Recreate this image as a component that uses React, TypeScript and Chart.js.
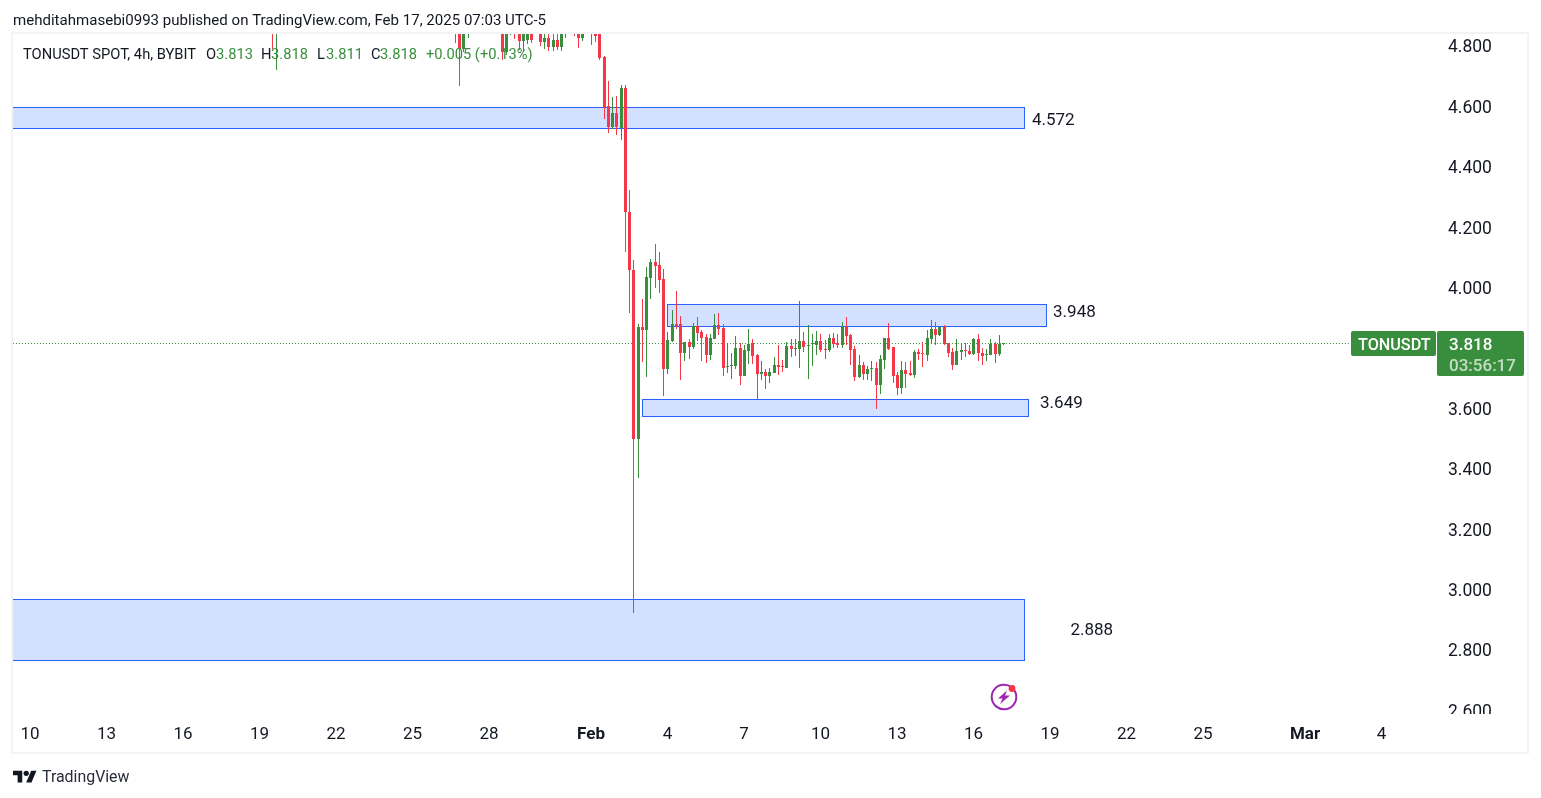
import React, { useEffect, useRef } from "react";
import { Chart, registerables } from "chart.js";

Chart.register(...registerables);

const FONT = "Roboto";
const GREEN = "#388e3c";
const RED = "#f5374a";
const INK = "#131722";

// 4h bars counted from Jan 10 00:00; only bars that reach into the visible window are listed
const barSlots = [
  57, 58, 100, 101, 102, 103, 111, 112, 113, 114, 115, 116, 117, 118, 120, 121, 122, 123, 124, 125, 126, 128, 129, 130,
  132, 133, 134, 135, 136, 137, 138, 139, 140, 141, 142, 143, 144, 145, 146, 147, 148, 149, 150, 151, 152, 153, 154,
  155, 156, 157, 158, 159, 160, 161, 162, 163, 164, 165, 166, 167, 168, 169, 170, 171, 172, 173, 174, 175, 176, 177,
  178, 179, 180, 181, 182, 183, 184, 185, 186, 187, 188, 189, 190, 191, 192, 193, 194, 195, 196, 197, 198, 199, 200,
  201, 202, 203, 204, 205, 206, 207, 208, 209, 210, 211, 212, 213, 214, 215, 216, 217, 218, 219, 220, 221, 222, 223,
  224, 225, 226, 227, 228, 229,
];
const opens = [
  4.9, 4.86, 4.92, 4.88, 4.79, 4.88, 4.92, 4.78, 4.86, 4.9, 4.88, 4.817, 4.82, 4.87, 4.88, 4.813, 4.826, 4.797, 4.82,
  4.797, 4.87, 4.92, 4.9, 4.826, 4.9, 4.88, 4.84, 4.764, 4.601, 4.532, 4.578, 4.528, 4.661, 4.25, 4.058, 3.499, 3.87,
  3.86, 4.032, 4.085, 4.075, 4.028, 3.73, 3.823, 3.879, 3.879, 3.783, 3.82, 3.803, 3.873, 3.853, 3.836, 3.777, 3.83,
  3.876, 3.866, 3.737, 3.74, 3.74, 3.8, 3.707, 3.79, 3.815, 3.777, 3.714, 3.72, 3.707, 3.717, 3.744, 3.74, 3.734,
  3.807, 3.797, 3.797, 3.823, 3.807, 3.812, 3.81, 3.823, 3.797, 3.793, 3.833, 3.817, 3.81, 3.87, 3.843, 3.797, 3.704,
  3.744, 3.714, 3.73, 3.734, 3.677, 3.76, 3.833, 3.803, 3.711, 3.667, 3.727, 3.717, 3.711, 3.787, 3.783, 3.777, 3.83,
  3.863, 3.843, 3.87, 3.817, 3.787, 3.744, 3.787, 3.793, 3.79, 3.78, 3.83, 3.783, 3.777, 3.777, 3.813, 3.78, 3.813,
];
const highs = [
  4.95, 4.96, 4.95, 4.92, 4.93, 4.93, 4.95, 4.92, 4.93, 4.92, 4.9, 4.9, 4.89, 4.89, 4.9, 4.85, 4.86, 4.85, 4.85, 4.89,
  4.92, 4.95, 4.93, 4.9, 4.93, 4.9, 4.86, 4.767, 4.684, 4.631, 4.634, 4.671, 4.671, 4.323, 4.091, 3.879, 3.962, 4.069,
  4.095, 4.144, 4.118, 4.062, 3.853, 3.926, 3.989, 3.906, 3.82, 3.83, 3.883, 3.903, 3.86, 3.846, 3.846, 3.912, 3.916,
  3.879, 3.817, 3.783, 3.84, 3.817, 3.81, 3.863, 3.83, 3.78, 3.757, 3.73, 3.734, 3.77, 3.81, 3.76, 3.82, 3.83, 3.83,
  3.956, 3.853, 3.876, 3.846, 3.856, 3.846, 3.826, 3.846, 3.85, 3.846, 3.886, 3.903, 3.846, 3.807, 3.777, 3.754, 3.74,
  3.757, 3.754, 3.777, 3.833, 3.883, 3.803, 3.72, 3.757, 3.754, 3.757, 3.793, 3.797, 3.82, 3.86, 3.893, 3.886, 3.873,
  3.876, 3.817, 3.8, 3.83, 3.817, 3.817, 3.81, 3.833, 3.846, 3.8, 3.797, 3.83, 3.82, 3.843, 3.818,
];
const lows = [
  4.79, 4.72, 4.81, 4.669, 4.78, 4.826, 4.754, 4.77, 4.836, 4.823, 4.787, 4.78, 4.807, 4.81, 4.8, 4.79, 4.783, 4.783,
  4.787, 4.783, 4.826, 4.833, 4.793, 4.817, 4.803, 4.813, 4.754, 4.558, 4.512, 4.525, 4.505, 4.489, 4.118, 3.916,
  2.923, 3.371, 3.754, 3.705, 3.962, 3.999, 3.982, 3.641, 3.714, 3.82, 3.863, 3.694, 3.757, 3.763, 3.797, 3.823,
  3.757, 3.75, 3.76, 3.83, 3.843, 3.707, 3.717, 3.697, 3.73, 3.677, 3.707, 3.747, 3.747, 3.631, 3.694, 3.664, 3.684,
  3.717, 3.711, 3.72, 3.734, 3.77, 3.773, 3.734, 3.787, 3.697, 3.74, 3.777, 3.787, 3.764, 3.787, 3.8, 3.8, 3.8, 3.81,
  3.744, 3.691, 3.701, 3.694, 3.694, 3.691, 3.598, 3.648, 3.73, 3.793, 3.684, 3.644, 3.648, 3.667, 3.707, 3.701, 3.76,
  3.737, 3.757, 3.813, 3.81, 3.84, 3.81, 3.77, 3.727, 3.744, 3.76, 3.77, 3.777, 3.777, 3.757, 3.744, 3.757, 3.777,
  3.75, 3.774, 3.811,
];
const closes = [
  4.86, 4.92, 4.86, 4.79, 4.9, 4.9, 4.78, 4.9, 4.9, 4.86, 4.817, 4.87, 4.87, 4.82, 4.813, 4.826, 4.797, 4.82, 4.797,
  4.87, 4.9, 4.87, 4.826, 4.88, 4.86, 4.833, 4.76, 4.598, 4.532, 4.578, 4.532, 4.661, 4.25, 4.058, 3.499, 3.87, 3.86,
  4.036, 4.085, 4.072, 4.025, 3.73, 3.826, 3.879, 3.873, 3.783, 3.82, 3.803, 3.873, 3.85, 3.833, 3.777, 3.833, 3.876,
  3.863, 3.734, 3.74, 3.744, 3.8, 3.707, 3.793, 3.813, 3.773, 3.714, 3.72, 3.707, 3.72, 3.744, 3.737, 3.737, 3.807,
  3.797, 3.8, 3.823, 3.803, 3.81, 3.815, 3.823, 3.793, 3.793, 3.833, 3.813, 3.81, 3.87, 3.84, 3.793, 3.704, 3.744,
  3.714, 3.73, 3.734, 3.677, 3.764, 3.833, 3.797, 3.707, 3.667, 3.727, 3.714, 3.711, 3.787, 3.78, 3.78, 3.833, 3.863,
  3.843, 3.87, 3.813, 3.783, 3.744, 3.79, 3.793, 3.79, 3.78, 3.83, 3.783, 3.774, 3.78, 3.813, 3.78, 3.813, 3.818,
];

const yTicks = [4.8, 4.6, 4.4, 4.2, 4.0, 3.8, 3.6, 3.4, 3.2, 3.0, 2.8, 2.6];
const xTickDays = [0, 3, 6, 9, 12, 15, 18, 22, 25, 28, 31, 34, 37, 40, 43, 46, 50, 53];
const xTickLabels = ["10", "13", "16", "19", "22", "25", "28", "Feb", "4", "7", "10", "13", "16", "19", "22", "25", "Mar", "4"];
const monthLabels = ["Feb", "Mar"];

// support / resistance zones: start day, end day, upper price, lower price
const zoneStart = [-2, 24.98, 24, -2];
const zoneEnd = [38.98, 39.84, 39.14, 38.98];
const zoneTop = [4.598, 3.946, 3.63, 2.97];
const zoneBottom = [4.528, 3.873, 3.575, 2.767];
const zoneLabels = ["4.572", "3.948", "3.649", "2.888"];
const zoneLabelDay = [39.29, 40.12, 39.61, 40.8];
const zoneLabelPrice = [4.554, 3.918, 3.616, 2.863];

const lastPrice = 3.818;
const priceLineDays = [-0.67, 51.8];

const SPACING = 25.5;
const dayMin = (13 - 30) / SPACING;
const dayMax = (1437 - 30) / SPACING;
const priceMax = 4.8 + 12 / 302;
const priceMin = 4.8 - 668 / 302;

function roundRect(c: CanvasRenderingContext2D, x: number, y: number, w: number, h: number, r: number) {
  c.beginPath();
  c.roundRect(x, y, w, h, r);
  c.fill();
}

const backdrop = {
  id: "backdrop",
  // keep every candle on whole pixels, as the reference is drawn
  afterDatasetsUpdate(chart: any) {
    chart.data.datasets.forEach((ds: any, i: number) => {
      const meta = chart.getDatasetMeta(i);
      meta.data.forEach((el: any) => {
        if (ds.type === "line") {
          el.y = Math.round(el.y) + 0.5;
          return;
        }
        el.x = Math.round(el.x - 0.01) + 0.5;
        const a = Math.round(el.y);
        const b = Math.round(el.base);
        el.y = a;
        el.base = a === b ? a + 1 : b;
      });
    });
  },
  beforeDraw(chart: any) {
    const c: CanvasRenderingContext2D = chart.ctx;
    c.save();
    c.fillStyle = "#ffffff";
    c.fillRect(0, 0, 1541, 798);
    c.strokeStyle = "#f2f3f5";
    c.lineWidth = 2;
    c.strokeRect(12, 33, 1516, 720);
    c.restore();
    // price labels sit a little lower than the canvas' middle baseline
    chart.scales.y.getLabelItems(chart.chartArea).forEach((it: any) => {
      const t = it.options.translation;
      it.options = { ...it.options, translation: [t[0], t[1] + 2] };
    });
  },
  beforeDatasetsDraw(chart: any) {
    const c: CanvasRenderingContext2D = chart.ctx;
    const { x, y } = chart.scales;
    const a = chart.chartArea;
    c.save();
    c.beginPath();
    c.rect(a.left, a.top, a.right - a.left, a.bottom - a.top);
    c.clip();
    zoneStart.forEach((s, i) => {
      const l = Math.round(x.getPixelForValue(s));
      const r = Math.round(x.getPixelForValue(zoneEnd[i]));
      const t = Math.round(y.getPixelForValue(zoneTop[i]));
      const b = Math.round(y.getPixelForValue(zoneBottom[i]));
      c.fillStyle = "rgba(41,98,255,0.2)";
      c.fillRect(l, t, r - l, b - t);
      c.strokeStyle = "#2962ff";
      c.lineWidth = 1;
      c.strokeRect(l + 0.5, t + 0.5, r - l, b - t);
    });
    c.restore();
  },
  afterDraw(chart: any) {
    const c: CanvasRenderingContext2D = chart.ctx;
    const { x, y } = chart.scales;
    c.save();
    c.textBaseline = "middle";
    c.textAlign = "left";

    // crop of the lowest price tick
    c.fillStyle = "#ffffff";
    c.fillRect(1440, 714, 85, 9);

    c.font = `15.05px ${FONT}`;
    c.fillStyle = INK;
    c.fillText("mehditahmasebi0993 published on TradingView.com, Feb 17, 2025 07:03 UTC-5", 13, 21);

    // legend
    c.font = `14.7px ${FONT}`;
    c.fillText("TONUSDT SPOT, 4h, BYBIT", 23, 55);
    c.fillText("O", 206, 55);
    c.fillText("H", 261, 55);
    c.fillText("L", 317, 55);
    c.fillText("C", 371, 55);
    c.fillStyle = GREEN;
    c.fillText("3.813", 216, 55);
    c.fillText("3.818", 271, 55);
    c.fillText("3.811", 326, 55);
    c.fillText("3.818", 380, 55);
    c.fillText("+0.005 (+0.13%)", 426, 55);

    // zone values
    c.font = `17px ${FONT}`;
    c.fillStyle = INK;
    zoneLabels.forEach((t, i) => {
      c.fillText(t, x.getPixelForValue(zoneLabelDay[i]), y.getPixelForValue(zoneLabelPrice[i]));
    });

    // last price labels
    c.fillStyle = GREEN;
    roundRect(c, 1351, 331, 85, 25, 2);
    roundRect(c, 1437, 331, 87, 45, 2);
    c.fillStyle = "#ffffff";
    c.font = `500 16.2px ${FONT}`;
    c.fillText("TONUSDT", 1358, 345.5);
    c.font = `500 17px ${FONT}`;
    c.fillText(lastPrice.toFixed(3), 1449, 345.5);
    c.fillStyle = "rgba(255,255,255,0.7)";
    c.fillText("03:56:17", 1449, 366.5);

    // logo
    c.translate(13, 768);
    c.scale(0.66, 0.66);
    c.fillStyle = INK;
    c.fill(new Path2D("M14 22H7V11H0V4h14v18zM28 22h-8l7.5-18h8L28 22z"));
    c.beginPath();
    c.arc(20, 8, 4, 0, Math.PI * 2);
    c.fill();
    c.setTransform(1, 0, 0, 1, 0, 0);
    c.font = `15.9px ${FONT}`;
    c.fillStyle = "#2a2e39";
    c.fillText("TradingView", 42, 778);

    // alert badge
    c.strokeStyle = "#9c27b0";
    c.lineWidth = 2;
    c.beginPath();
    c.arc(1004, 697, 12.3, -0.9, Math.PI * 1.75);
    c.stroke();
    c.fillStyle = "#9c27b0";
    c.beginPath();
    c.moveTo(1007, 690.5);
    c.lineTo(998, 698.5);
    c.lineTo(1002.5, 698.5);
    c.lineTo(1000, 704);
    c.lineTo(1010, 695.5);
    c.lineTo(1005, 695.5);
    c.closePath();
    c.fill();
    c.fillStyle = "#f23645";
    c.beginPath();
    c.arc(1012, 688.5, 3.4, 0, Math.PI * 2);
    c.fill();
    c.restore();
  },
};

export default function App() {
  const ref = useRef<HTMLCanvasElement>(null);
  useEffect(() => {
    const colors = closes.map((v, i) => (v >= opens[i] ? GREEN : RED));
    const chart = new Chart(ref.current as HTMLCanvasElement, {
      type: "bar",
      data: {
        datasets: [
          {
            type: "line",
            data: priceLineDays.map((d) => ({ x: d, y: lastPrice })),
            borderColor: GREEN,
            borderWidth: 1,
            borderDash: [1, 2],
            pointRadius: 0,
            order: 3,
          },
          {
            data: barSlots.map((s, i) => ({ x: s / 6, y: [lows[i], highs[i]] })),
            backgroundColor: colors,
            barThickness: 1,
            inflateAmount: 0,
            grouped: false,
            order: 2,
          },
          {
            data: barSlots.map((s, i) => ({ x: s / 6, y: [opens[i], closes[i]] })),
            backgroundColor: colors,
            barThickness: 3,
            inflateAmount: 0,
            grouped: false,
            order: 1,
          },
        ] as any,
      },
      options: {
        animation: false,
        responsive: false,
        devicePixelRatio: 1,
        layout: { padding: { top: 34, left: 13, right: 0, bottom: 0 } },
        plugins: { legend: { display: false }, tooltip: { enabled: false } },
        scales: {
          x: {
            type: "linear",
            min: dayMin,
            max: dayMax,
            offset: false,
            grid: { display: false },
            border: { display: false },
            afterBuildTicks: (s: any) => {
              s.ticks = xTickDays.map((value) => ({ value }));
            },
            afterFit: (s: any) => {
              s.height = 84;
            },
            ticks: {
              autoSkip: false,
              maxRotation: 0,
              padding: 2.5,
              color: INK,
              font: (ctx: any) => ({
                family: FONT,
                size: 17,
                weight: monthLabels.includes(xTickLabels[xTickDays.indexOf(ctx.tick?.value)]) ? "bold" : "normal",
              }),
              callback: (v: any) => xTickLabels[xTickDays.indexOf(v)],
            },
          },
          y: {
            type: "linear",
            position: "right",
            min: priceMin,
            max: priceMax,
            grid: { display: false },
            border: { display: false },
            afterBuildTicks: (s: any) => {
              s.ticks = yTicks.map((value) => ({ value }));
            },
            afterFit: (s: any) => {
              s.width = 104;
            },
            ticks: {
              padding: 3,
              color: INK,
              font: { family: FONT, size: 17.5 },
              callback: (v: any) => Number(v).toFixed(3),
            },
          },
        },
      } as any,
      plugins: [backdrop],
    });
    return () => chart.destroy();
  }, []);
  return (
    <canvas
      ref={ref}
      width={1541}
      height={798}
      style={{ position: "absolute", left: 0, top: 0, width: 1541, height: 798, display: "block" }}
    />
  );
}
